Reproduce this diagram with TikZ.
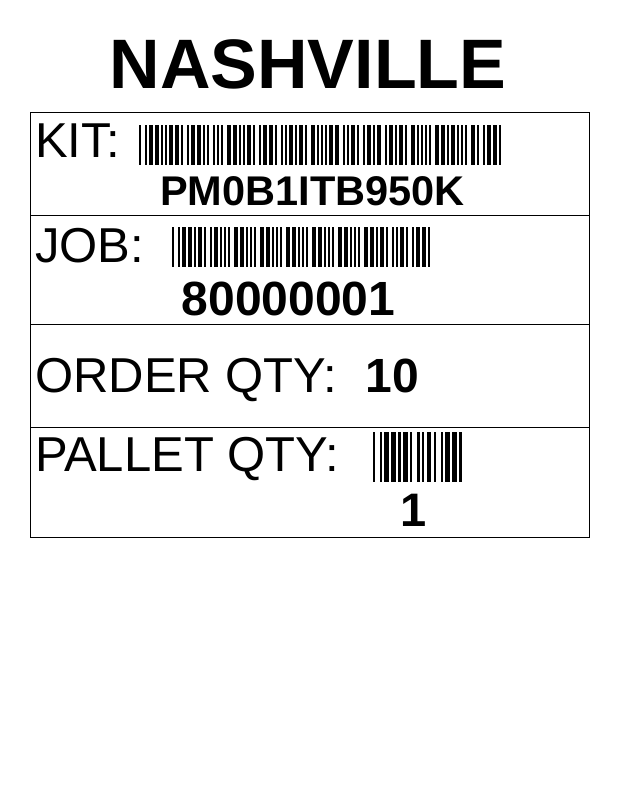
\documentclass[tikz,border=0pt]{standalone}
\usepackage{fontspec}
\setmainfont{Liberation Sans}
\newcommand{\defbc}[2]{\expandafter\def\csname bcpat#1\endcsname{#2}}
\defbc{*}{0,1,0,0,1,0,1,0,0}
\defbc{P}{0,0,1,0,1,0,0,1,0}
\defbc{M}{1,0,1,0,0,0,0,1,0}
\defbc{0}{0,0,0,1,1,0,1,0,0}
\defbc{B}{0,0,1,0,0,1,0,0,1}
\defbc{1}{1,0,0,1,0,0,0,0,1}
\defbc{I}{0,0,1,0,0,1,1,0,0}
\defbc{T}{0,0,0,0,1,0,1,1,0}
\defbc{9}{0,0,1,1,0,0,1,0,0}
\defbc{5}{1,0,0,1,1,0,0,0,0}
\defbc{K}{1,0,0,0,0,0,0,1,1}
\defbc{8}{1,0,0,1,0,0,1,0,0}
\newcommand{\barcode}[5]{%
  \xdef\bcx{#1}%
  \foreach \ch in {#5}{%
    \edef\bcpat{\csname bcpat\ch\endcsname}%
    \foreach \b [count=\i] in \bcpat{%
      \pgfmathsetmacro\bw{(1+\b)*#4}%
      \ifodd\i \fill (\bcx,#2) rectangle ++(\bw,#3);\fi
      \pgfmathsetmacro\nx{\bcx+\bw}\xdef\bcx{\nx}%
    }%
    \pgfmathsetmacro\nx{\bcx+#4}\xdef\bcx{\nx}%
  }%
}

\begin{document}
\begin{tikzpicture}[x=1pt,y=-1pt,
  lbl/.style={anchor=base west,inner sep=0pt,font=\fontsize{49}{56}\selectfont},
  val/.style={anchor=base,inner sep=0pt,font=\fontsize{#1}{56}\selectfont\bfseries}]
\useasboundingbox (0,0) rectangle (617,801);
\node (title) at (308,88.3) [anchor=base,inner sep=0pt,font=\fontsize{70}{80}\selectfont\bfseries] {NASHVILLE};
  \draw [line width=1pt] (30,112.5) rectangle (589,537);
  \foreach \y in {215,324.5,427} \draw [line width=1pt] (30,\y) -- (589,\y);
  \node (kit) at (35,157) [lbl] {KIT:};
  \barcode{139}{125}{40}{2}{*,P,M,0,B,1,I,T,B,9,5,0,K,*}
  \node (kitno) at (312.5,205) [val=41.5] {PM0B1ITB950K};
  \node (job) at (35,262) [lbl] {JOB:};
  \barcode{172}{227}{40}{2}{*,8,0,0,0,0,0,0,1,*}
  \node (jobno) at (288.5,315) [val=48] {80000001};
  \node (order) at (35,392) [lbl] {ORDER QTY:};
  \node (orderno) at (392.5,392.5) [val=48] {10};
  \node (pallet) at (35,471.5) [lbl] {PALLET QTY:};
  \barcode{372.5}{432}{50}{2.35}{*,1,*}
  \node (palletno) at (414,526.5) [val=47] {1};
\end{tikzpicture}
\end{document}
